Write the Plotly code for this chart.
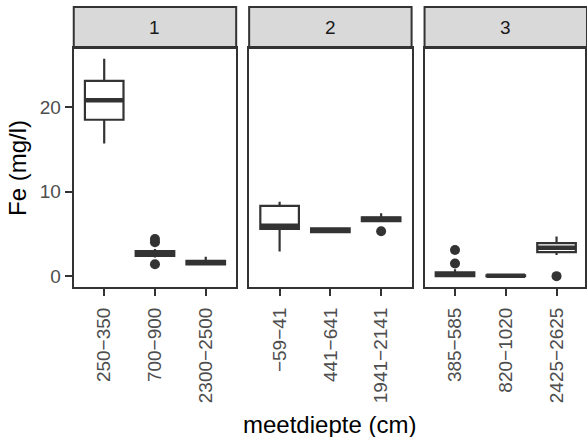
import plotly.graph_objects as go

W, H = 587, 437

panel_names = ["1", "2", "3"]
cats_1 = ["250\u2212350", "700\u2212900", "2300\u22122500"]
cats_2 = ["\u221259\u221241", "441\u2212641", "1941\u22122141"]
cats_3 = ["385\u2212585", "820\u22121020", "2425\u22122625"]

q1_1 = [18.5, 2.4, 1.4]
med_1 = [20.8, 2.7, 1.6]
q3_1 = [23.1, 2.95, 1.8]
lo_1 = [15.7, 2.2, 1.3]
hi_1 = [25.7, 3.2, 2.3]
out_x_1 = [1, 1, 1]
out_y_1 = [4.4, 4.0, 1.4]

q1_2 = [5.6, 5.2, 6.5]
med_2 = [5.95, 5.4, 6.75]
q3_2 = [8.3, 5.65, 6.95]
lo_2 = [2.9, 5.1, 6.4]
hi_2 = [8.8, 5.75, 7.45]
out_x_2 = [2]
out_y_2 = [5.3]

q1_3 = [0.0, 0.0, 2.85]
med_3 = [0.15, 0.05, 3.35]
q3_3 = [0.45, 0.1, 3.9]
lo_3 = [0.0, 0.0, 2.5]
hi_3 = [0.8, 0.15, 4.7]
out_x_3 = [0, 0, 2]
out_y_3 = [3.1, 1.5, 0.0]

y_ticks = [0, 10, 20]

panels = [
    (cats_1, q1_1, med_1, q3_1, lo_1, hi_1, out_x_1, out_y_1),
    (cats_2, q1_2, med_2, q3_2, lo_2, hi_2, out_x_2, out_y_2),
    (cats_3, q1_3, med_3, q3_3, lo_3, hi_3, out_x_3, out_y_3),
]

# layout geometry (pixels)
px_left = [74, 250, 426]
px_right = [237, 413, 589]
top_px, bot_px = 48, 287
strip_top = 7

DARK = "#333333"
FONT = "Liberation Sans, Arial, sans-serif"
BOXW = 0.76

fig = go.Figure()
all_vals = []
for p in panels:
    all_vals += p[4] + p[5] + p[7]
ymin, ymax = min(all_vals), max(all_vals)
pad = 0.05 * (ymax - ymin)
yrange = [ymin - pad, ymax + pad]

shapes = []
annotations = []
for i, (cats, q1, med, q3, lo, hi, ox, oy) in enumerate(panels):
    n = "" if i == 0 else str(i + 1)
    xa, ya = "x" + n, "y" + n
    xs = list(range(len(cats)))
    fig.add_trace(go.Box(
        x=xs, q1=q1, median=med, q3=q3, lowerfence=lo, upperfence=hi,
        width=BOXW, whiskerwidth=0, boxpoints=False,
        fillcolor="white", line=dict(color=DARK, width=2.2),
        xaxis=xa, yaxis=ya, showlegend=False, hoverinfo="skip"))
    mx, my = [], []
    for xi, m in zip(xs, med):
        mx += [xi - BOXW / 2, xi + BOXW / 2, None]
        my += [m, m, None]
    fig.add_trace(go.Scatter(x=mx, y=my, mode="lines",
                             line=dict(color=DARK, width=4.5),
                             xaxis=xa, yaxis=ya, showlegend=False, hoverinfo="skip"))
    fig.add_trace(go.Scatter(x=ox, y=oy, mode="markers",
                             marker=dict(color=DARK, size=10),
                             xaxis=xa, yaxis=ya, showlegend=False, hoverinfo="skip"))
    x0 = px_left[i] / W
    x1 = min(px_right[i] / W, 1.0)
    unit = (px_right[i] - px_left[i]) / (len(cats) - 1 + 1.2)
    xmax = -0.6 + (x1 * W - px_left[i]) / unit
    fig.update_layout(**{
        "xaxis" + n: dict(domain=[x0, x1], range=[-0.6, xmax], tickmode="array",
                          tickvals=xs, ticktext=cats, tickangle=-90,
                          ticks="outside", ticklen=7, tickwidth=2, tickcolor=DARK,
                          ticklabelstandoff=4,
                          tickfont=dict(size=19, color="#4d4d4d", family=FONT),
                          showline=True, mirror=True, linecolor=DARK, linewidth=2,
                          showgrid=False, zeroline=False, anchor=ya, fixedrange=True),
        "yaxis" + n: dict(domain=[1 - bot_px / H, 1 - top_px / H], range=yrange,
                          tickmode="array", tickvals=y_ticks,
                          ticks="outside" if i == 0 else "", ticklen=7, tickwidth=2, tickcolor=DARK,
                          showticklabels=(i == 0),
                          tickfont=dict(size=19, color="#4d4d4d", family=FONT),
                          showline=True, mirror=True, linecolor=DARK, linewidth=2,
                          showgrid=False, zeroline=False, anchor=xa, fixedrange=True),
    })
    shapes.append(dict(type="rect", xref="paper", yref="paper",
                       x0=x0, x1=px_right[i] / W, y0=1 - top_px / H, y1=1 - strip_top / H,
                       fillcolor="#d9d9d9", line=dict(color=DARK, width=2), layer="below"))
    annotations.append(dict(text=panel_names[i], xref="paper", yref="paper",
                            x=(px_left[i] + px_right[i]) / 2 / W, y=1 - (strip_top + top_px) / 2 / H,
                            showarrow=False, xanchor="center", yanchor="middle",
                            font=dict(size=19, color="#1a1a1a", family=FONT)))

annotations.append(dict(text="Fe (mg/l)", xref="paper", yref="paper",
                        x=17 / W, y=1 - 168 / H, textangle=-90, showarrow=False,
                        xanchor="center", yanchor="middle",
                        font=dict(size=24, color="black", family=FONT)))
annotations.append(dict(text="meetdiepte (cm)", xref="paper", yref="paper",
                        x=331 / W, y=1 - 424 / H, showarrow=False,
                        xanchor="center", yanchor="middle",
                        font=dict(size=24, color="black", family=FONT)))

fig.update_layout(width=W, height=H, margin=dict(l=0, r=0, t=0, b=0),
                  paper_bgcolor="white", plot_bgcolor="white",
                  shapes=shapes, annotations=annotations, showlegend=False)

fig.write_html("out.html", config={"displayModeBar": False},
               post_script="document.body.style.margin='0px';document.body.style.overflow='hidden';")
